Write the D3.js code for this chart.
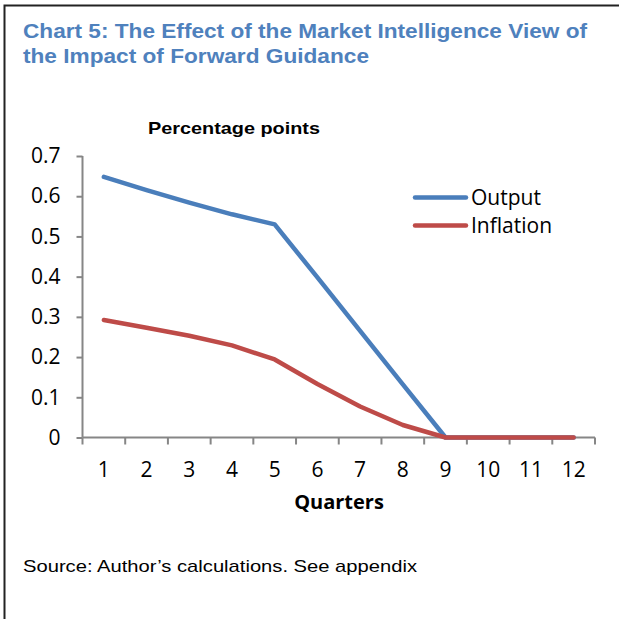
<!DOCTYPE html>
<html>
<head>
<meta charset="utf-8">
<script src="https://cdn.jsdelivr.net/npm/d3@7"></script>
<style>
  body { margin: 0; background: #fff; }
  svg { display: block; }
</style>
</head>
<body>
<div class="content"></div>
<script>
const quarters = ["1","2","3","4","5","6","7","8","9","10","11","12"];
const output = [0.648, 0.615, 0.584, 0.555, 0.530, 0.398, 0.265, 0.132, 0, 0, 0, 0];
const inflation = [0.292, 0.273, 0.253, 0.229, 0.194, 0.133, 0.077, 0.031, 0, 0, 0, 0];
const yTicks = [0, 0.1, 0.2, 0.3, 0.4, 0.5, 0.6, 0.7];
const seriesNames = ["Output", "Inflation"];
const seriesColors = ["#4a7ebb", "#be4b48"];

const W = 619, H = 619;
const plot = { left: 82.5, right: 595, top: 156, bottom: 437.5 };

const svg = d3.select('.content')
  .append('svg')
  .attr('width', W)
  .attr('height', H);

// frame (only top/left visible in the crop)
svg.append("path")
  .attr("d", `M4.5,${H} V5.5 H${W}`)
  .attr("fill", "none")
  .attr("stroke", "#222")
  .attr("stroke-width", 2);

// title
const titleLines = ["Chart 5: The Effect of the Market Intelligence View of", "the Impact of Forward Guidance"];
const titleWidths = [564, 346];
svg.selectAll(".title")
  .data(titleLines)
  .enter().append("text")
  .attr("class", "title")
  .attr("x", 23)
  .attr("y", (d, i) => 37.5 + i * 25)
  .attr("font-family", "Liberation Sans, Arial, sans-serif")
  .attr("font-weight", "bold")
  .attr("font-size", 20)
  .attr("fill", "#4f81bd")
  .attr("textLength", (d, i) => titleWidths[i])
  .attr("lengthAdjust", "spacingAndGlyphs")
  .text(d => d);

let xScale = d3.scaleBand()
  .domain(quarters)
  .range([plot.left, plot.right]);

let yScale = d3.scaleLinear()
  .domain([0, 0.7])
  .range([plot.bottom, plot.top]);

// y axis
svg.append("g")
  .attr("class", "yAxis")
  .attr("transform", `translate(${plot.left},0)`)
  .call(d3.axisLeft(yScale).tickValues(yTicks).tickSize(6).tickPadding(16)
    .tickFormat(d => d === 0 ? "0" : d3.format(".1f")(d)))
  .call(g => g.select(".domain").attr("d", `M0,${plot.top}V${plot.bottom}`))
  .call(g => g.selectAll("line,.domain").attr("stroke", "#868686").attr("stroke-width", 2))
  .call(g => g.selectAll("text")
    .attr("font-family", "Open Sans, sans-serif")
    .attr("font-size", 21)
    .attr("fill", "#000"));

// x axis: ticks at the category boundaries
const xBounds = quarters.map(q => xScale(q)).concat([plot.right]);
const xAxis = svg.append("g").attr("class", "xAxis");
xAxis.append("line")
  .attr("x1", plot.left).attr("x2", plot.right)
  .attr("y1", plot.bottom).attr("y2", plot.bottom)
  .attr("stroke", "#868686").attr("stroke-width", 2);
xAxis.selectAll(".xtick")
  .data(xBounds)
  .enter().append("line")
  .attr("class", "xtick")
  .attr("x1", d => d).attr("x2", d => d)
  .attr("y1", plot.bottom).attr("y2", plot.bottom + 7)
  .attr("stroke", "#868686").attr("stroke-width", 2);
xAxis.selectAll(".xlabel")
  .data(quarters)
  .enter().append("text")
  .attr("class", "xlabel")
  .attr("x", d => xScale(d) + xScale.bandwidth() / 2)
  .attr("y", 477)
  .attr("text-anchor", "middle")
  .attr("font-family", "Open Sans, sans-serif")
  .attr("font-size", 21)
  .attr("fill", "#000")
  .text(d => d);

// lines
const series = [output, inflation];
const line = d3.line()
  .x((d, i) => xScale(quarters[i]) + xScale.bandwidth() / 2)
  .y(d => yScale(d));

svg.selectAll(".series")
  .data(series)
  .enter().append("path")
  .attr("class", "series")
  .attr("d", d => line(d))
  .attr("fill", "none")
  .attr("stroke", (d, i) => seriesColors[i])
  .attr("stroke-width", 4.5)
  .attr("stroke-linejoin", "round")
  .attr("stroke-linecap", "round");

// legend
const legend = svg.selectAll(".legend")
  .data(seriesNames)
  .enter().append("g")
  .attr("class", "legend")
  .attr("transform", (d, i) => `translate(415,${197.5 + i * 28})`);
legend.append("line")
  .attr("x1", 0).attr("x2", 51)
  .attr("stroke", (d, i) => seriesColors[i])
  .attr("stroke-width", 4.5)
  .attr("stroke-linecap", "round");
legend.append("text")
  .attr("x", 56)
  .attr("y", 7.5)
  .attr("font-family", "Open Sans, sans-serif")
  .attr("font-size", 21)
  .attr("fill", "#000")
  .text(d => d);

// axis titles
svg.append("text")
  .attr("x", 148)
  .attr("y", 134)
  .attr("font-family", "Liberation Sans, Arial, sans-serif")
  .attr("font-weight", "bold")
  .attr("font-size", 17)
  .attr("textLength", 172)
  .attr("lengthAdjust", "spacingAndGlyphs")
  .attr("fill", "#000")
  .text("Percentage points");

svg.append("text")
  .attr("x", 339)
  .attr("y", 509)
  .attr("text-anchor", "middle")
  .attr("font-family", "Open Sans, sans-serif")
  .attr("font-weight", "bold")
  .attr("font-size", 20)
  .attr("fill", "#000")
  .text("Quarters");

// source
svg.append("text")
  .attr("x", 23)
  .attr("y", 572)
  .attr("font-family", "Liberation Sans, Arial, sans-serif")
  .attr("font-size", 17)
  .attr("textLength", 394)
  .attr("lengthAdjust", "spacingAndGlyphs")
  .attr("fill", "#000")
  .text("Source: Author’s calculations. See appendix");
</script>
</body>
</html>
